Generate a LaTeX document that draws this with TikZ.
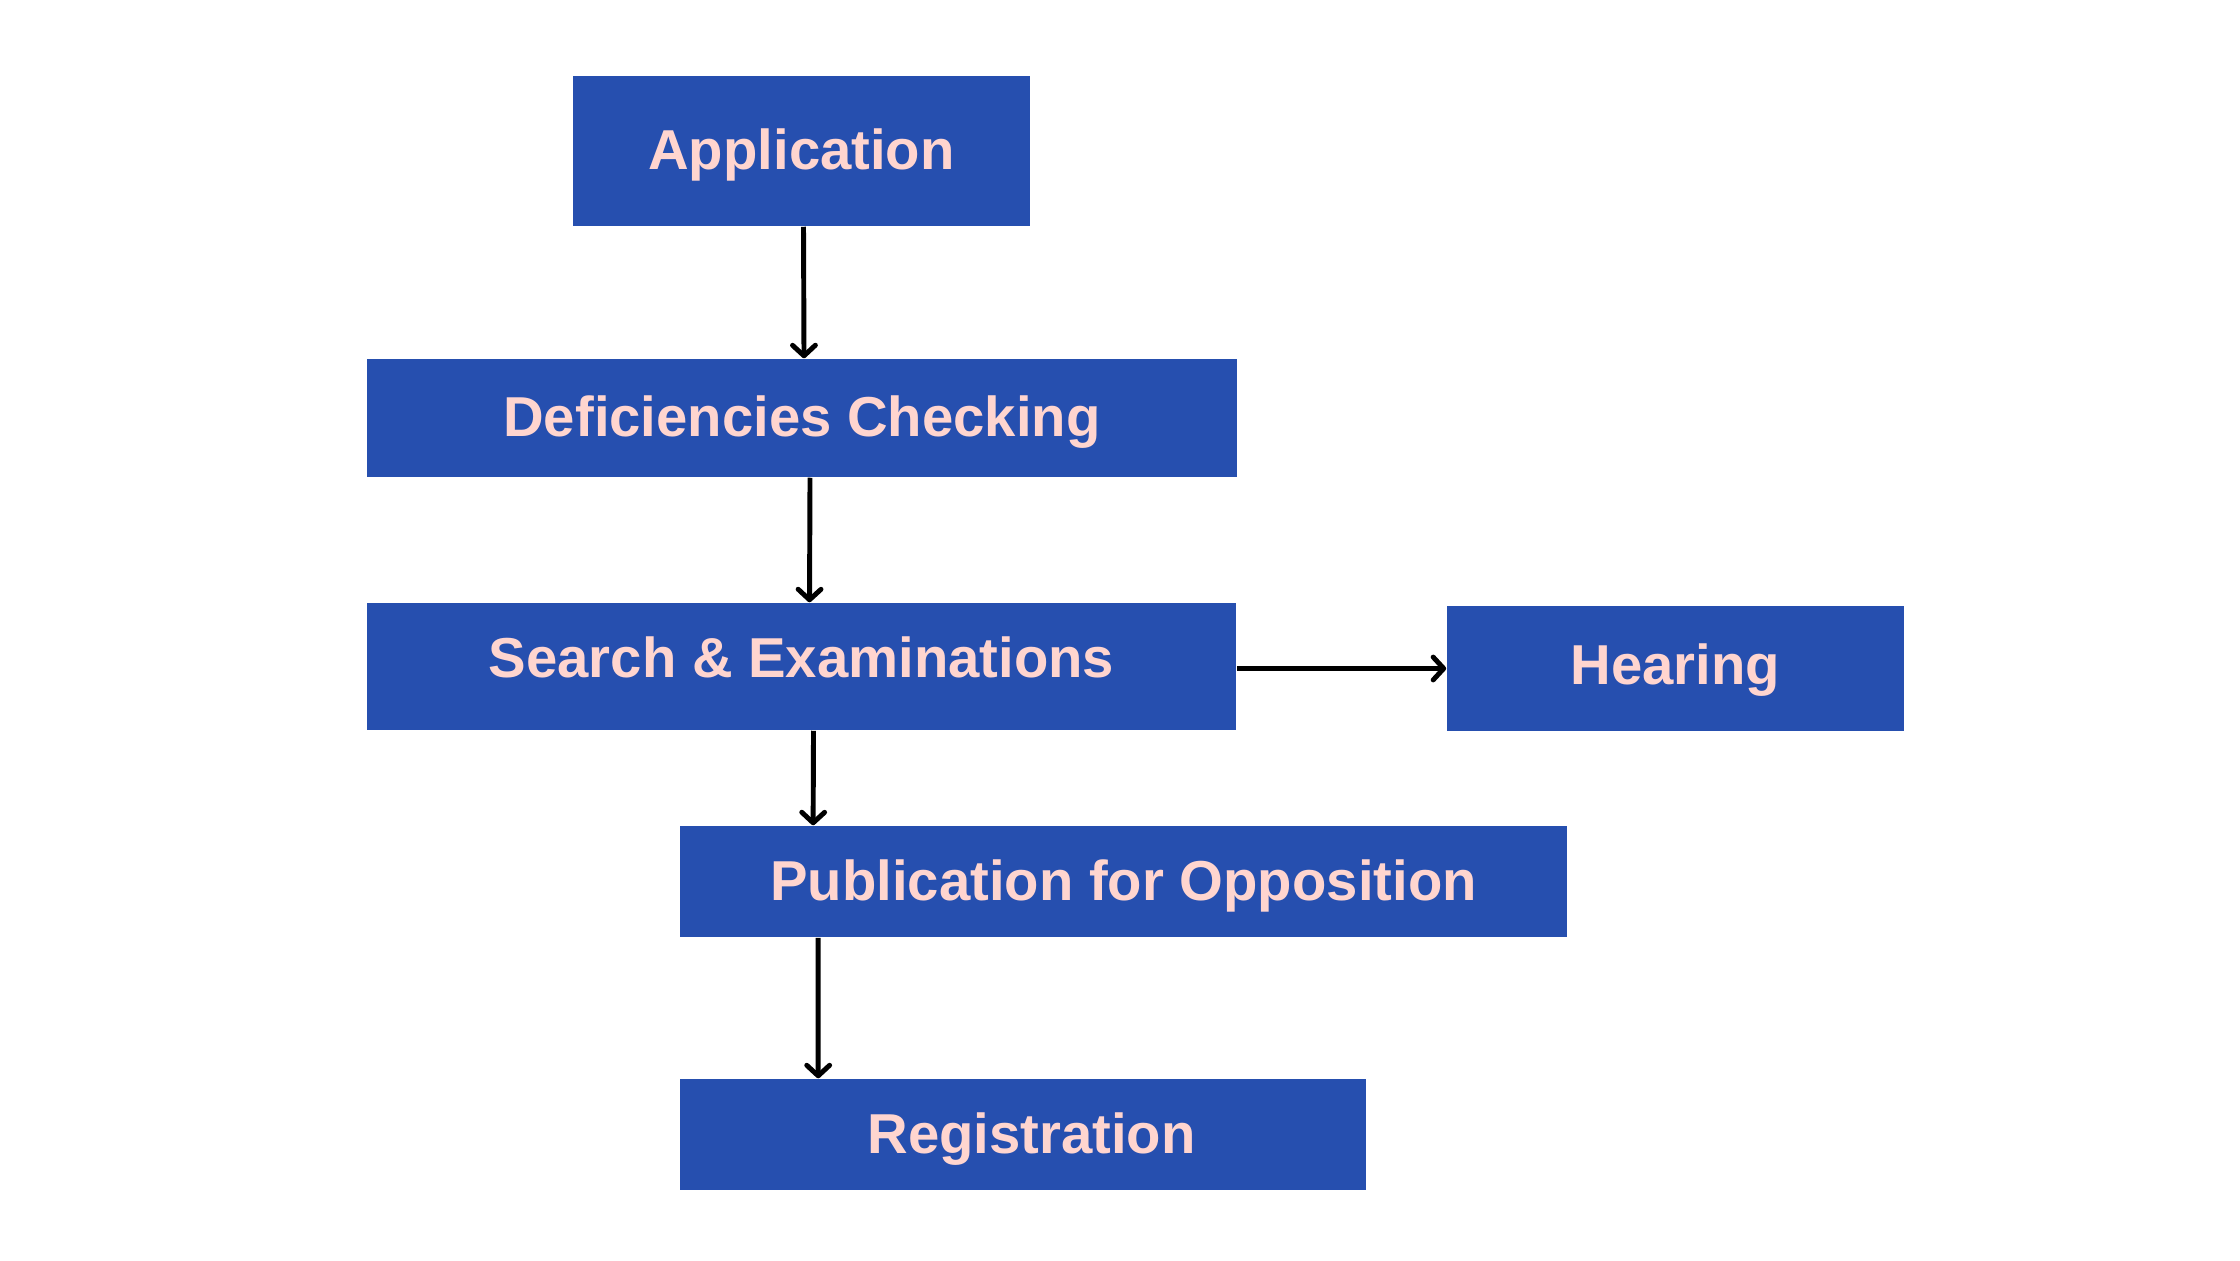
\documentclass[tikz,border=0pt]{standalone}
\usepackage{fontspec}
\setmainfont{Liberation Sans}
\usepackage{xcolor}
\usepackage{tikz}
\usetikzlibrary{arrows.meta,positioning}

\definecolor{boxblue}{HTML}{264FAF}
\definecolor{boxtext}{HTML}{FFD5CF}

\begin{document}
\begin{tikzpicture}[
	x=0.01cm, y=-0.01cm,
	font=\fontsize{16}{19}\selectfont\bfseries,
	>={Straight Barb[length=3pt,width=6.5pt,round]},
	et/.style={rectangle, fill=boxblue, text=boxtext, inner sep=0pt, align=center, text height=0.42cm, text depth=0.05cm},
	seta/.style={->, line width=1.4pt, black},
]
\useasboundingbox (0,0) rectangle (2240,1260);
% Caixas do fluxo principal
\node[et, minimum width=4.57cm, minimum height=1.50cm] (app) at (801.5,151) {Application};
\node[et, minimum width=8.70cm, minimum height=1.18cm] (def) at (802,418) {Deficiencies Checking};
\node[et, minimum width=8.69cm, minimum height=1.27cm] (srch) at (801.5,666.5) {\raisebox{0.08cm}{Search \& Examinations}};
\node[et, minimum width=8.87cm, minimum height=1.11cm] (pub) at (1123.5,881.5) {Publication for Opposition};
\node[et, minimum width=6.86cm, minimum height=1.11cm] (reg) at (1023,1134.5) {\hspace*{0.17cm}Registration};
% Caixa lateral
\node[et, minimum width=4.57cm, minimum height=1.25cm] (hear) at (1675.5,668.5) {\raisebox{0.03cm}{Hearing}};
% Setas
\draw[seta] ([xshift=0.02cm]app.south) -- ([xshift=0.02cm]def.north);
\draw[seta] ([xshift=0.08cm]def.south) -- ([xshift=0.08cm]srch.north);
\draw[seta] ([xshift=0.12cm]srch.south) -- ([xshift=1.34cm]pub.north west);
\draw[seta] ([xshift=1.39cm]pub.south west) -- ([xshift=1.39cm]reg.north west);
\draw[seta] (srch.east |- hear.west) -- (hear.west);
\end{tikzpicture}
\end{document}
